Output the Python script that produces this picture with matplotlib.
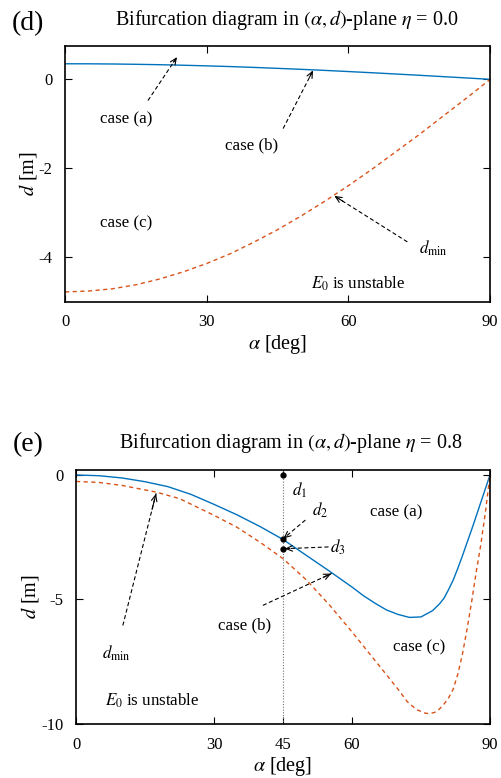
import numpy as np
import matplotlib
matplotlib.use('Agg')
import matplotlib.pyplot as plt

plt.rcParams['font.family'] = ['Liberation Serif', 'DejaVu Serif']
plt.rcParams['mathtext.fontset'] = 'stix'
plt.rcParams['axes.unicode_minus'] = False

BLUE = '#0072bd'
RED = '#d95319'

# (d) eta = 0.0
alpha_d = [0, 5, 10, 15, 20, 25, 30, 35, 40, 45, 50, 55, 60, 65, 70, 75, 80, 85, 90]
blue_d = [0.35, 0.349, 0.345, 0.338, 0.329, 0.317, 0.303, 0.287, 0.268, 0.247,
          0.225, 0.201, 0.175, 0.148, 0.12, 0.091, 0.061, 0.031, 0.0]
red_d = [-4.78, -4.76, -4.71, -4.62, -4.49, -4.33, -4.14, -3.92, -3.66, -3.38,
         -3.07, -2.74, -2.39, -2.02, -1.63, -1.24, -0.83, -0.42, 0.0]

# (e) eta = 0.8
alpha_eb = [0, 5, 10, 15, 20, 25, 30, 35, 40, 45, 50, 55, 60, 62.5, 65, 67.5,
            70, 72.5, 75, 77.5, 79, 80, 81, 82, 83, 84, 85, 86, 87, 88, 89, 90]
blue_e = [0.0, -0.03, -0.12, -0.27, -0.47, -0.78, -1.18, -1.6, -2.07, -2.59,
          -3.22, -3.85, -4.5, -4.85, -5.15, -5.42, -5.6, -5.72, -5.7, -5.45,
          -5.18, -4.95, -4.6, -4.22, -3.75, -3.25, -2.72, -2.2, -1.65, -1.1,
          -0.55, 0.0]
alpha_er = [0, 5, 10, 17.5, 22.5, 30, 35, 40, 45, 50, 55, 60, 65, 70, 72, 74,
            76, 77, 78, 79, 80, 81, 82, 83, 84, 85, 86, 87, 88, 89, 90]
red_e = [-0.26, -0.3, -0.42, -0.69, -0.95, -1.62, -2.1, -2.7, -3.36, -4.2, -5.2,
         -6.3, -7.45, -8.6, -9.1, -9.42, -9.57, -9.58, -9.53, -9.4, -9.2, -8.95,
         -8.6, -8.0, -7.2, -6.2, -5.1, -3.9, -2.8, -1.5, 0.0]
alpha_mark = 45
d_marks = [0.0, -2.59, -2.98]

FS_T = 14.5
FS = 12.2

fig = plt.figure(figsize=(5.02, 7.78), dpi=100)
ax1 = fig.add_axes([0.1295, 0.6122, 0.847, 0.3287])
ax2 = fig.add_axes([0.1514, 0.0694, 0.8247, 0.3265])


def arrow(ax, tail, head):
    ax.annotate('', xy=head, xytext=tail,
                arrowprops=dict(arrowstyle='-', color='k', lw=0.8,
                                linestyle=(0, (3, 3)), shrinkA=0, shrinkB=0))
    t = (head[0] + 0.12 * (tail[0] - head[0]), head[1] + 0.12 * (tail[1] - head[1]))
    ax.annotate('', xy=head, xytext=t,
                arrowprops=dict(arrowstyle='->,head_length=0.45,head_width=0.2',
                                color='k', lw=0.8, shrinkA=0, shrinkB=0))


for ax in (ax1, ax2):
    ax.tick_params(direction='in', top=True, right=True, length=5, width=0.8,
                   labelsize=12, pad=9)
    for s in ax.spines.values():
        s.set_linewidth(1.2)
    ax.set_xlim(0, 90)
    ax.set_xlabel(r'$\alpha$ [deg]', fontsize=FS_T, labelpad=2)

# panel (d)
ax1.plot(alpha_d, blue_d, color=BLUE, lw=1.0)
ax1.plot(alpha_d, red_d, color=RED, lw=1.0, ls=(0, (3, 2.5)))
ax1.set_ylim(-5, 0.75)
ax1.set_xticks([0, 30, 60, 90])
ax1.set_yticks([0, -2, -4])
ax1.set_ylabel(r'$d$ [m]', fontsize=FS_T, labelpad=0)
ax1.text(12.9, -0.9, 'case (a)', fontsize=FS, ha='center', va='center')
ax1.text(39.5, -1.49, 'case (b)', fontsize=FS, ha='center', va='center')
ax1.text(12.9, -3.25, 'case (c)', fontsize=FS, ha='center', va='center')
ax1.text(78, -3.8, r'$d_{\rm min}$', fontsize=FS, ha='center', va='center')
ax1.text(62, -4.6, r'$E_0$ is unstable', fontsize=FS, ha='center', va='center')
arrow(ax1, (17.6, -0.47), (23.7, 0.5))
arrow(ax1, (46.2, -1.1), (52.5, 0.2))
arrow(ax1, (72.4, -3.65), (57.0, -2.62))

# panel (e)
ax2.axvline(alpha_mark, color='0.45', lw=0.8, ls=(0, (1, 1.5)))
ax2.plot(alpha_eb, blue_e, color=BLUE, lw=1.0)
ax2.plot(alpha_er, red_e, color=RED, lw=1.0, ls=(0, (3, 2.5)))
ax2.plot([alpha_mark] * len(d_marks), d_marks, 'o', color='k', ms=3.5, zorder=5)
ax2.set_ylim(-10, 0.2)
ax2.set_xticks([0, 30, 45, 60, 90])
ax2.set_yticks([0, -5, -10])
ax2.set_ylabel(r'$d$ [m]', fontsize=FS_T, labelpad=0)
ax2.text(47.0, -0.62, r'$d_1$', fontsize=FS, ha='left', va='center')
ax2.text(51.3, -1.42, r'$d_2$', fontsize=FS, ha='left', va='center')
ax2.text(55.2, -2.9, r'$d_3$', fontsize=FS, ha='left', va='center')
ax2.text(69.6, -1.49, 'case (a)', fontsize=FS, ha='center', va='center')
ax2.text(36.7, -6.03, 'case (b)', fontsize=FS, ha='center', va='center')
ax2.text(74.6, -6.93, 'case (c)', fontsize=FS, ha='center', va='center')
ax2.text(8.8, -7.17, r'$d_{\rm min}$', fontsize=FS, ha='center', va='center')
ax2.text(16.5, -9.08, r'$E_0$ is unstable', fontsize=FS, ha='center', va='center')
arrow(ax2, (49.8, -1.82), (45.1, -2.55))
arrow(ax2, (54.8, -2.89), (45.4, -2.96))
arrow(ax2, (10.2, -6.03), (17.4, -0.75))
arrow(ax2, (40.7, -5.23), (55.5, -3.96))

fig.text(0.572, 0.974, r'Bifurcation diagram in $(\alpha, d)$-plane $\eta$ = 0.0',
         fontsize=FS_T, ha='center', va='center')
fig.text(0.056, 0.970, '(d)', fontsize=20, ha='center', va='center')
fig.text(0.58, 0.4306, r'Bifurcation diagram in $(\alpha, d)$-plane $\eta$ = 0.8',
         fontsize=FS_T, ha='center', va='center')
fig.text(0.056, 0.428, '(e)', fontsize=20, ha='center', va='center')

fig.savefig('out.png', dpi=100)
